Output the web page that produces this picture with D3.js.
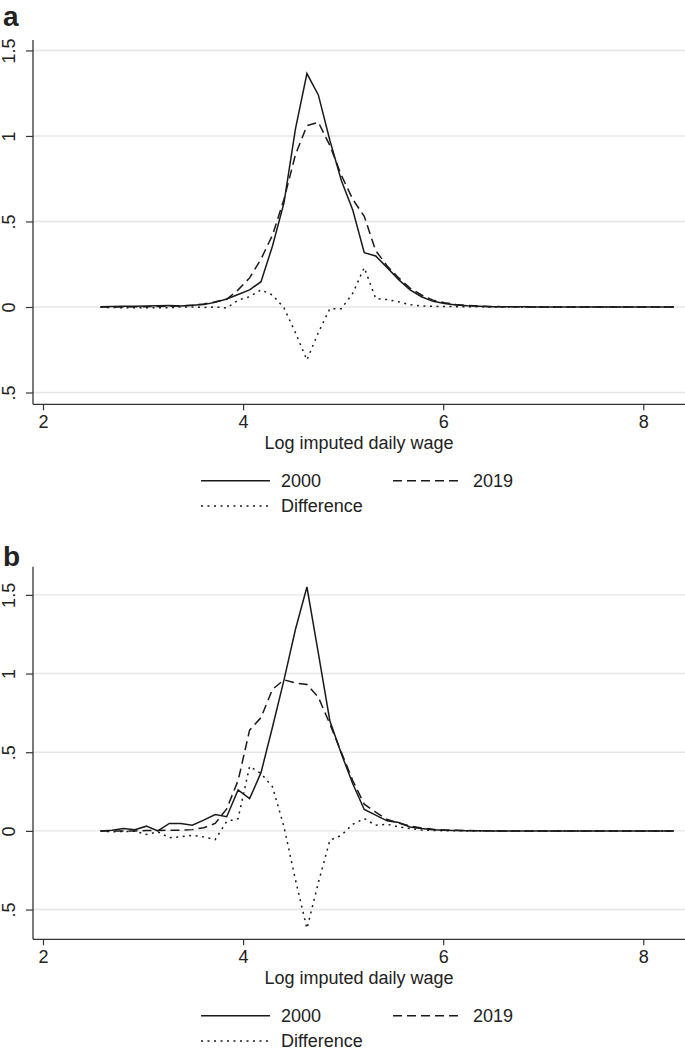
<!DOCTYPE html>
<html>
<head>
<meta charset="utf-8">
<script src="https://cdn.jsdelivr.net/npm/d3@7"></script>
<style>
  html, body { margin: 0; padding: 0; background: #fff; }
  svg { display: block; }
  text { font-family: "Liberation Sans", Arial, Helvetica, sans-serif; fill: #222; }
</style>
</head>
<body>
<svg id="chart" width="685" height="1053"></svg>
<script>
// ---- Data ----
const wageX = [2.575,2.690,2.804,2.919,3.033,3.148,3.263,3.377,3.492,3.606,
               3.721,3.836,3.950,4.065,4.179,4.294,4.409,4.523,4.638,4.752,
               4.867,4.982,5.096,5.211,5.325,5.440,5.555,5.669,5.784,5.898,
               6.013,6.128,6.242,6.357,6.471,6.586,6.701,6.815,6.930,7.044,
               7.159,7.274,7.388,7.503,7.617,7.732,7.847,7.961,8.076,8.190,8.305];

// Panel a
const a2000 = [0.002,0.003,0.005,0.004,0.006,0.007,0.008,0.006,0.010,0.015,
               0.027,0.047,0.073,0.100,0.148,0.357,0.610,1.040,1.365,1.240,
               0.975,0.740,0.567,0.318,0.298,0.230,0.160,0.100,0.060,0.033,
               0.020,0.012,0.007,0.004,0.002,0.001,0.001,0.001,0,0,
               0,0,0,0,0,0,0,0,0,0,0];
const a2019 = [0.000,0.000,0.000,0.001,0.002,0.003,0.004,0.006,0.010,0.018,
               0.030,0.045,0.100,0.170,0.280,0.420,0.630,0.890,1.060,1.080,
               0.945,0.770,0.630,0.530,0.330,0.240,0.170,0.110,0.070,0.040,
               0.025,0.015,0.009,0.005,0.003,0.002,0.001,0.001,0,0,
               0,0,0,0,0,0,0,0,0,0,0];
const aDiff = [-0.002,-0.003,-0.005,-0.004,-0.005,-0.005,-0.004,0.000,0.000,-0.003,
               0.000,-0.006,0.040,0.060,0.100,0.070,-0.006,-0.150,-0.310,-0.150,
               -0.010,-0.010,0.080,0.230,0.050,0.043,0.030,0.014,0.006,0.004,
               0.003,0.002,0.001,0.001,0,0,0,0,0,0,
               0,0,0,0,0,0,0,0,0,0,0];

// Panel b
const b2000 = [0.000,0.004,0.015,0.008,0.030,0.000,0.047,0.047,0.036,0.068,
               0.104,0.090,0.260,0.205,0.370,0.660,0.960,1.280,1.550,1.130,
               0.700,0.490,0.300,0.136,0.100,0.064,0.053,0.025,0.015,0.008,
               0.004,0.002,0.001,0.001,0,0,0,0,0,0,
               0,0,0,0,0,0,0,0,0,0,0];
const b2019 = [0.000,0.000,0.000,0.000,0.002,0.002,0.004,0.004,0.008,0.020,
               0.047,0.140,0.320,0.640,0.720,0.900,0.960,0.940,0.930,0.850,
               0.680,0.500,0.320,0.170,0.120,0.072,0.050,0.030,0.019,0.010,
               0.006,0.004,0.002,0.001,0.001,0,0,0,0,0,
               0,0,0,0,0,0,0,0,0,0,0];
const bDiff = [0.000,-0.006,-0.004,-0.002,-0.023,-0.006,-0.044,-0.038,-0.028,-0.038,
               -0.055,0.060,0.078,0.410,0.364,0.280,0.025,-0.310,-0.620,-0.330,
               -0.060,-0.028,0.042,0.078,0.036,0.042,0.025,0.015,0.005,0.003,
               0.001,0.001,0,0,0,0,0,0,0,0,
               0,0,0,0,0,0,0,0,0,0,0];

const xTicks = [2, 4, 6, 8];
const yTicks = [-0.5, 0, 0.5, 1, 1.5];
const yTickLabels = [".5", "0", ".5", "1", "1.5"];
const seriesNames = ["2000", "2019", "Difference"];
const panelNames = ["a", "b"];
const xTitle = "Log imputed daily wage";

// ---- Drawing ----
const svg = d3.select("#chart");
const FS = "18px";
const styles = [
  { dash: null },
  { dash: "9,5" },
  { dash: "2,4.5" }
];

function drawPanel(cfg) {
  const g = svg.append("g");
  const x = d3.scaleLinear().domain([1.9, 8.417]).range([33, 685]);
  const y = d3.scaleLinear().domain(cfg.yDomain).range([cfg.bottom, cfg.top]);

  // gridlines
  g.append("g").selectAll("line").data(yTicks).join("line")
    .attr("x1", 33).attr("x2", 685)
    .attr("y1", d => y(d)).attr("y2", d => y(d))
    .attr("stroke", "#e6e6e6").attr("stroke-width", 1.4);

  // series
  const line = d3.line().x((d, i) => x(wageX[i])).y(d => y(d));
  cfg.series.forEach((s, k) => {
    g.append("path").datum(s)
      .attr("d", line)
      .attr("fill", "none")
      .attr("stroke", "#1a1a1a")
      .attr("stroke-width", 1.5)
      .attr("stroke-linejoin", "miter")
      .attr("stroke-dasharray", styles[k].dash);
  });

  // y axis
  const yAxis = d3.axisLeft(y).tickValues(yTicks).tickSize(7)
    .tickFormat((d, i) => yTickLabels[i]);
  const ya = g.append("g").attr("transform", "translate(33,0)").call(yAxis);
  ya.select(".domain").attr("d", `M0,${cfg.top}V${cfg.bottom}`)
    .attr("stroke", "#333").attr("stroke-width", 1.3);
  ya.selectAll(".tick line").attr("stroke", "#333").attr("stroke-width", 1.2);
  ya.selectAll(".tick text")
    .attr("x", null).attr("dy", null)
    .attr("transform", "translate(-18,0) rotate(-90)")
    .attr("text-anchor", "middle")
    .attr("y", 0)
    .style("font-size", FS)
    .style("font-family", "'Liberation Sans', Arial, sans-serif")
    .attr("fill", "#222");

  // x axis
  const xAxis = d3.axisBottom(x).tickValues(xTicks).tickSize(6).tickFormat(d3.format("d"));
  const xa = g.append("g").attr("transform", `translate(0,${cfg.bottom})`).call(xAxis);
  xa.select(".domain").attr("d", `M33,0H685`)
    .attr("stroke", "#333").attr("stroke-width", 1.3);
  xa.selectAll(".tick line").attr("stroke", "#333").attr("stroke-width", 1.2);
  xa.selectAll(".tick text")
    .attr("y", 24).attr("dy", null)
    .style("font-size", FS)
    .style("font-family", "'Liberation Sans', Arial, sans-serif")
    .attr("fill", "#222");

  // x title
  g.append("text").attr("x", 359).attr("y", cfg.bottom + 44.7)
    .attr("text-anchor", "middle").style("font-size", FS).text(xTitle);

  // legend
  const ly1 = cfg.bottom + 76.5, ly2 = cfg.bottom + 101.8;
  const legendItems = [
    { k: 0, x1: 201, x2: 270, tx: 281, y: ly1 },
    { k: 1, x1: 393, x2: 460, tx: 473, y: ly1 },
    { k: 2, x1: 201, x2: 270, tx: 281, y: ly2 }
  ];
  legendItems.forEach(it => {
    g.append("line").attr("x1", it.x1).attr("x2", it.x2)
      .attr("y1", it.y).attr("y2", it.y)
      .attr("stroke", "#1a1a1a").attr("stroke-width", 1.5)
      .attr("stroke-dasharray", styles[it.k].dash);
    g.append("text").attr("x", it.tx).attr("y", it.y + 6.3)
      .style("font-size", FS).text(seriesNames[it.k]);
  });

  // panel label
  g.append("text").attr("x", 3).attr("y", cfg.labelY)
    .style("font-size", "28px").style("font-weight", "bold")
    .attr("fill", "#111").text(cfg.name);
}

drawPanel({ name: panelNames[0], top: 40, bottom: 404.3, yDomain: [-0.569, 1.561],
            labelY: 26, series: [a2000, a2019, aDiff] });
drawPanel({ name: panelNames[1], top: 566.7, bottom: 939.3, yDomain: [-0.689, 1.679],
            labelY: 566, series: [b2000, b2019, bDiff] });
</script>
</body>
</html>
